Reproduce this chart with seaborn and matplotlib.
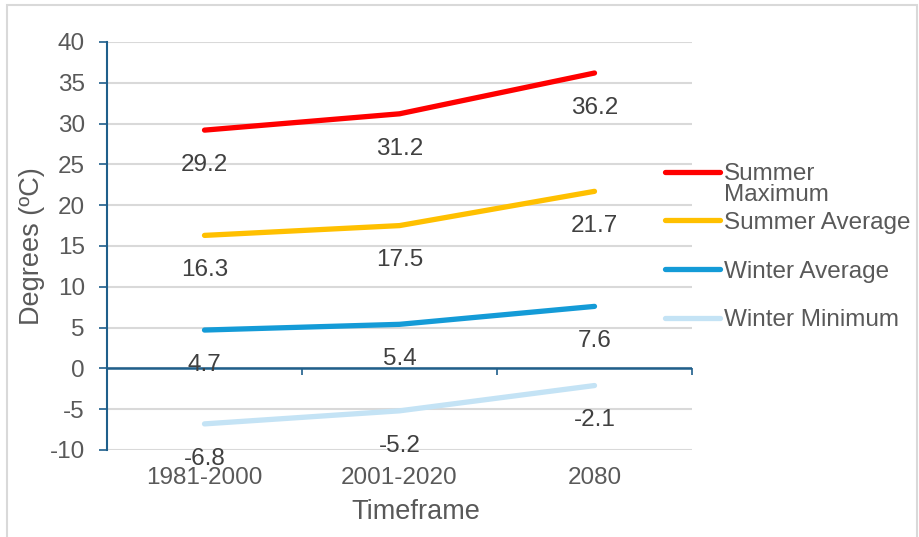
import pandas as pd
import matplotlib
matplotlib.use("Agg")
import matplotlib.pyplot as plt
from matplotlib.patches import Rectangle
from matplotlib.lines import Line2D
import seaborn as sns

# Data
timeframes = ['1981-2000', '2001-2020', '2080']
summer_max = [29.2, 31.2, 36.2]
summer_avg = [16.3, 17.5, 21.7]
winter_avg = [4.7, 5.4, 7.6]
winter_min = [-6.8, -5.2, -2.1]

series_names = ['Summer Maximum', 'Summer Average', 'Winter Average', 'Winter Minimum']
series_values = [summer_max, summer_avg, winter_avg, winter_min]
series_colors = ['#FF0000', '#FFC000', '#149BD7', '#C4E3F5']

rows = []
for name, vals in zip(series_names, series_values):
    for t, v in zip(timeframes, vals):
        rows.append({'Timeframe': t, 'Degrees': v, 'Series': name})
df = pd.DataFrame(rows)

sns.set_style('white')
plt.rcParams['font.family'] = ['Liberation Sans', 'DejaVu Sans']
plt.rcParams['axes.unicode_minus'] = False

axis_blue = '#1F5F8B'
grey_text = '#595959'
label_text = '#404040'
fs = 17.5

fig = plt.figure(figsize=(9.2, 5.37), dpi=100)
ax = fig.add_axes([107 / 920, 1 - 450 / 537, (692 - 107) / 920, (450 - 42) / 537])

sns.lineplot(data=df, x='Timeframe', y='Degrees', hue='Series', hue_order=series_names,
             palette=series_colors, linewidth=3.8, sort=False, legend=False, ax=ax,
             solid_capstyle='round', zorder=3)

# data labels below each point
for name, vals in zip(series_names, series_values):
    for i, v in enumerate(vals):
        ax.annotate(f'{v}', (i, v), xytext=(0, -25), textcoords='offset points',
                    ha='center', va='center', fontsize=fs, color=label_text, zorder=4)

ax.set_xlim(-0.5, len(timeframes) - 0.5)
ax.set_ylim(-10, 40)
ax.set_yticks(range(-10, 41, 5))
ax.grid(axis='y', color='#D9D9D9', linewidth=1.5)
ax.grid(axis='x', visible=False)
ax.axhline(0, color=axis_blue, linewidth=1.8, zorder=2.5)

for s in ['top', 'right', 'bottom']:
    ax.spines[s].set_visible(False)
ax.spines['left'].set_color(axis_blue)
ax.spines['left'].set_linewidth(1.5)
ax.tick_params(axis='y', direction='out', length=6, width=1.2, color=axis_blue,
               pad=10, labelsize=fs, labelcolor=grey_text, left=True)
ax.tick_params(axis='x', length=0, pad=12, labelsize=fs, labelcolor=grey_text)

# category tick marks on the zero line
zero_axis = ax.secondary_xaxis(10 / 50)
zero_axis.spines['bottom'].set_visible(False)
zero_axis.set_xticks([x - 0.5 for x in range(len(timeframes) + 1)])
zero_axis.tick_params(axis='x', direction='out', length=5, width=1.2, color=axis_blue,
                      labelbottom=False)

ax.set_xlabel('Timeframe', fontsize=19.5, color=grey_text)
ax.xaxis.set_label_coords(0.528, -0.12)
ax.set_ylabel('Degrees (ºC)', fontsize=19.5, color=grey_text, labelpad=3)

# legend
handles = [Line2D([], [], color=c, linewidth=3.8, solid_capstyle='round') for c in series_colors]
legend_labels = ['Summer', 'Summer Average', 'Winter Average', 'Winter Minimum']
leg = fig.legend(handles, legend_labels, loc='upper left', bbox_to_anchor=(665 / 920, 1 - 163 / 537),
                 frameon=False, fontsize=fs, handlelength=2.25, handletextpad=0.17,
                 labelspacing=1.1, borderpad=0, borderaxespad=0)
for t in leg.get_texts():
    t.set_color(grey_text)
fig.canvas.draw()
bb = leg.get_texts()[0].get_window_extent().transformed(fig.transFigure.inverted())
fig.text(bb.x0, bb.y0 + 0.002, 'Maximum', fontsize=fs, color=grey_text, va='top', ha='left')

# outer border
fig.patches.append(Rectangle((7 / 920, -0.05), 910 / 920, 1.05 - 5 / 537, transform=fig.transFigure,
                             fill=False, edgecolor='#D9D9D9', linewidth=1.5))

fig.savefig('out.png', dpi=100)
